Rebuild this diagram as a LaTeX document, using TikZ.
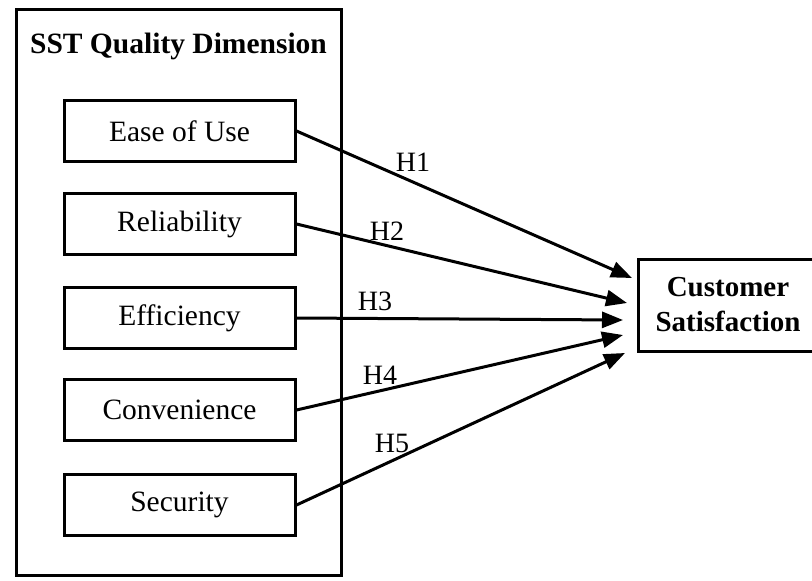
\documentclass[tikz,border=0pt]{standalone}
\usepackage{fontspec}
\setmainfont{Liberation Serif}
\usetikzlibrary{arrows.meta}
\begin{document}
\begin{tikzpicture}[x=1pt,y=-1pt,
  every node/.style={font=\fontsize{29.5}{35}\selectfont},
  dimbox/.style={draw, line width=3pt, minimum width=231pt, minimum height=61pt, inner sep=0pt},
  lbl/.style={inner sep=0pt, font=\fontsize{28}{35}\selectfont},
  hyp/.style={line width=3pt, -{Triangle[length=21pt,width=16pt]}}]
\useasboundingbox (0,0) rectangle (812,581);
\begin{scope}
\clip (0,0) rectangle (812,581);
% outer frame
\node[draw, line width=3pt, minimum width=325pt, minimum height=566pt, inner sep=0pt] (frame) at (179,292.5) {};
\node[anchor=base, inner sep=0pt, font=\fontsize{29.5}{35}\selectfont\bfseries] (title) at (178.5,53) {SST Quality Dimension};
% dimension boxes
\node[dimbox] (e1) at (179.5,131) {Ease of Use};
\node[dimbox] (e2) at (179.5,224) {Reliability};
\node[dimbox] (e3) at (179.5,318) {Efficiency};
\node[dimbox] (e4) at (179.5,410) {Convenience};
\node[dimbox] (e5) at (179.5,505) {Security};
% outcome
\node[draw, line width=3pt, minimum width=179pt, minimum height=92pt, inner sep=0pt, align=center, font=\fontsize{29}{35}\selectfont\bfseries] (cs) at (728,305) {Customer\\Satisfaction};
% arrow ends
\coordinate (t1) at (632,278);
\coordinate (t2) at (627,303);
\coordinate (t3) at (623,320);
\coordinate (t4) at (623,335);
\coordinate (t5) at (625,353);
\draw[hyp] (e1.east) -- (t1);
\draw[hyp] (e2.east) -- (t2);
\draw[hyp] (e3.east) -- (t3);
\draw[hyp] (e4.east) -- (t4);
\draw[hyp] (e5.east) -- (t5);
% labels
\node[lbl] (h1) at (413,162) {H1};
\node[lbl] (h2) at (387,231) {H2};
\node[lbl] (h3) at (375,301) {H3};
\node[lbl] (h4) at (380,375) {H4};
\node[lbl] (h5) at (392,443) {H5};
\end{scope}
\end{tikzpicture}
\end{document}
